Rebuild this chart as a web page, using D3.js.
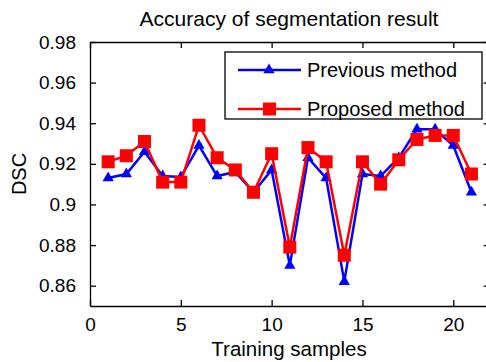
<!DOCTYPE html>
<html>
<head>
<meta charset="utf-8">
<script src="https://cdn.jsdelivr.net/npm/d3@7"></script>
<style>
  body { margin: 0; background: #fff; }
  svg text { font-family: "Liberation Sans", Arial, sans-serif; fill: #000; }
</style>
</head>
<body>
<script>
// training sample index and DSC of both methods
let samples = [1, 2, 3, 4, 5, 6, 7, 8, 9, 10, 11, 12, 13, 14, 15, 16, 17, 18, 19, 20, 21];
let previous = [0.913, 0.915, 0.926, 0.914, 0.9135, 0.929, 0.914, 0.916, 0.906, 0.917, 0.870,
                0.923, 0.913, 0.862, 0.915, 0.914, 0.923, 0.937, 0.937, 0.929, 0.906];
let proposed = [0.921, 0.924, 0.931, 0.911, 0.911, 0.939, 0.923, 0.917, 0.906, 0.925, 0.879,
                0.928, 0.921, 0.875, 0.921, 0.910, 0.922, 0.932, 0.934, 0.934, 0.915];
let xTicks = [0, 5, 10, 15, 20];
let yTicks = [0.86, 0.88, 0.9, 0.92, 0.94, 0.96, 0.98];
let seriesNames = ['Previous method', 'Proposed method'];

let width = 486, height = 362;
let margin = { left: 90, top: 42, right: -3.6, bottom: 56 };
let w = width - margin.left - margin.right;
let h = height - margin.top - margin.bottom;

let svg = d3.select('body').append('svg').attr('width', width).attr('height', height);
let g = svg.append('g').attr('transform', 'translate(' + margin.left + ',' + margin.top + ')');

let x = d3.scaleLinear().domain([0, 22]).range([0, w]);
let y = d3.scaleLinear().domain([0.85, 0.98]).range([h, 0]);

// axes with inward ticks, matlab style box
let fmt = function (d) { return d3.format('')(+d.toFixed(2)); };
g.append('g').attr('class', 'axis')
  .attr('transform', 'translate(0,' + h + ')')
  .call(d3.axisBottom(x).tickValues(xTicks).tickSizeInner(-6).tickSizeOuter(0).tickPadding(12));
g.append('g').attr('class', 'axis')
  .call(d3.axisLeft(y).tickValues(yTicks).tickFormat(fmt).tickSizeInner(-6).tickSizeOuter(0).tickPadding(14));
g.append('g').attr('class', 'axis')
  .call(d3.axisTop(x).tickValues(xTicks).tickSizeInner(-6).tickSizeOuter(0).tickFormat(''));
g.append('g').attr('class', 'axis')
  .attr('transform', 'translate(' + w + ',0)')
  .call(d3.axisRight(y).tickValues(yTicks).tickSizeInner(-6).tickSizeOuter(0).tickFormat(''));

svg.selectAll('.axis path, .axis line').attr('stroke', '#000').attr('stroke-width', 1.3);
svg.selectAll('.axis text').style('font-size', '19px').attr('fill', '#000');

let line = d3.line()
  .x(function (d, i) { return x(samples[i]); })
  .y(function (d) { return y(d); });

let tri = d3.symbol().type(d3.symbolTriangle).size(55);

// previous method (blue, triangles)
g.append('path').attr('d', line(previous))
  .attr('fill', 'none').attr('stroke', '#0000ff').attr('stroke-width', 2.5);
g.selectAll('.tri').data(previous).enter().append('path')
  .attr('d', tri)
  .attr('transform', function (d, i) { return 'translate(' + x(samples[i]) + ',' + y(d) + ')'; })
  .attr('fill', '#0000ff');

// proposed method (red, squares)
g.append('path').attr('d', line(proposed))
  .attr('fill', 'none').attr('stroke', '#ff0000').attr('stroke-width', 2.5);
g.selectAll('.sq').data(proposed).enter().append('rect')
  .attr('x', function (d, i) { return x(samples[i]) - 6.5; })
  .attr('y', function (d) { return y(d) - 6.5; })
  .attr('width', 13).attr('height', 13)
  .attr('fill', '#ff0000');

// legend
let legend = svg.append('g').attr('transform', 'translate(225,52)');
legend.append('rect').attr('width', 257).attr('height', 67)
  .attr('fill', '#fff').attr('stroke', '#000').attr('stroke-width', 1.3);
let colors = ['#0000ff', '#ff0000'];
seriesNames.forEach(function (name, i) {
  let ly = 18 + i * 39;
  let item = legend.append('g').attr('transform', 'translate(0,' + ly + ')');
  item.append('line').attr('x1', 13).attr('x2', 76).attr('y1', 0).attr('y2', 0)
    .attr('stroke', colors[i]).attr('stroke-width', 2.5);
  if (i === 0) {
    item.append('path').attr('d', tri).attr('transform', 'translate(44,0)').attr('fill', colors[i]);
  } else {
    item.append('rect').attr('x', 38).attr('y', -6.5).attr('width', 13).attr('height', 13).attr('fill', colors[i]);
  }
  item.append('text').attr('x', 82).attr('y', 7).style('font-size', '20px').text(name);
});

// titles
svg.append('text').attr('x', 289).attr('y', 26).attr('text-anchor', 'middle')
  .style('font-size', '21px').text('Accuracy of segmentation result');
svg.append('text').attr('x', 289).attr('y', 356).attr('text-anchor', 'middle')
  .style('font-size', '20.5px').text('Training samples');
svg.append('text').attr('transform', 'translate(26,174) rotate(-90)').attr('text-anchor', 'middle')
  .style('font-size', '20px').text('DSC');
</script>
</body>
</html>
